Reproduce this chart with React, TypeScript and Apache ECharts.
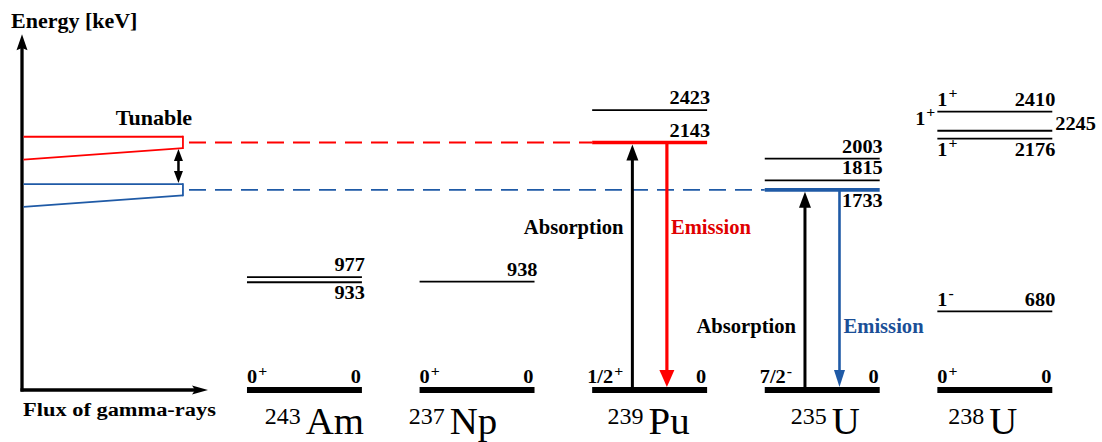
import React, { useEffect, useRef } from "react";
import * as echarts from "echarts";

// ---------------- data ----------------
const nuclideSymbols = ["Am", "Np", "Pu", "U", "U"];
const massNumbers = ["243", "237", "239", "235", "238"];
const groundSpins = ["0", "0", "1/2", "7/2", "0"];
const groundParities = ["+", "+", "+", "-", "+"];

const levelNuclide = [0, 0, 1, 2, 2, 3, 3, 3, 4, 4, 4, 4];
const levelEnergies = [977, 933, 938, 2423, 2143, 2003, 1815, 1733, 2410, 2245, 2176, 680];
const levelSpins = ["", "", "", "", "", "", "", "", "1", "1", "1", "1"];
const levelParities = ["", "", "", "", "", "", "", "", "+", "+", "+", "-"];

const transitionNuclide = [2, 2, 3, 3];
const transitionFrom = [0, 2143, 0, 1733];
const transitionTo = [2143, 0, 1733, 0];
const transitionNames = ["Absorption", "Emission", "Absorption", "Emission"];

const resonanceEnergies = [2143, 1733];
const resonanceNuclide = [2, 3];

// ---------------- layout / style ----------------
const SERIF = "'Liberation Serif', 'Times New Roman', 'DejaVu Serif', serif";
const RED = "#ff0000";
const BLUE = "#1f5aa6";
const BLUE_TEXT = "#1b4f97";
const BLACK = "#000000";
const resonanceColors = [RED, BLUE];
const emissionTextColors = ["#e00000", BLUE_TEXT];

const levelLabelSide = ["above", "below", "above", "above", "above", "above", "above", "below", "above", "side", "below", "above"];
const HALF_WIDTH = 0.333;
const ARROW_DX = 0.1;
const AXIS_X = -0.6365;
const BAND_RIGHT = 0.296;
const DOUBLE_ARROW_X = 0.27;
const DASH_START = 0.331;
const FLUX_TIP = 0.441;
const ENERGY_TIP = 3080;
const BAND_OFFSETS = [50, -48, -148];
const NAME_SHIFT_PX = [10, -24, -1, 3, -12];
const LABEL_FRACTION: Record<number, number> = { 2: 0.66, 3: 0.32 };
const LABEL_SIZE = 18;
const LABEL_SX = 1.13;

let measureCtx: CanvasRenderingContext2D | null = null;
function measure(str: string, size: number, weight: string): number {
  if (!measureCtx) measureCtx = document.createElement("canvas").getContext("2d");
  if (!measureCtx) return str.length * size * 0.5;
  measureCtx.font = `${weight} ${size}px "Liberation Serif"`;
  return measureCtx.measureText(str).width;
}

function txt(x: number, y: number, str: string, size: number, opts: any = {}) {
  return {
    type: "text",
    x,
    y,
    scaleX: opts.sx ?? LABEL_SX,
    silent: true,
    style: {
      text: str,
      fill: opts.color ?? BLACK,
      fontSize: size,
      fontWeight: opts.weight ?? "bold",
      fontFamily: SERIF,
      align: opts.align ?? "left",
      verticalAlign: "middle",
    },
  };
}

function spinLabel(spin: string, parity: string, x: number, y: number, anchor: "left" | "right") {
  const size = LABEL_SIZE;
  const supSize = 14;
  const wb = measure(spin, size, "bold") * LABEL_SX;
  const ws = measure(parity, supSize, "bold") * LABEL_SX;
  const left = anchor === "left" ? x : x - wb - 1 - ws;
  return [
    txt(left, y, spin, size),
    txt(left + wb + 1, y - 6, parity, supSize),
  ];
}

function line(x1: number, y1: number, x2: number, y2: number, color: string, width: number, dash?: number[]) {
  return {
    type: "line",
    silent: true,
    shape: { x1, y1, x2, y2 },
    style: { stroke: color, lineWidth: width, lineDash: dash, lineCap: "butt" },
  };
}

function headV(tx: number, ty: number, dir: 1 | -1, w: number, h: number, color: string, notch = 0) {
  // dir 1 = pointing down, -1 = pointing up
  const pts: number[][] = [[tx, ty], [tx - w / 2, ty - dir * h]];
  if (notch) pts.push([tx, ty - dir * h * (1 - notch)]);
  pts.push([tx + w / 2, ty - dir * h]);
  return { type: "polygon", silent: true, shape: { points: pts }, style: { fill: color } };
}

function headH(tx: number, ty: number, w: number, h: number, color: string) {
  return {
    type: "polygon",
    silent: true,
    shape: { points: [[tx, ty], [tx - h, ty - w / 2], [tx - h * 0.8, ty], [tx - h, ty + w / 2]] },
    style: { fill: color },
  };
}

function buildOption(): any {
  const levelData = levelEnergies.map((e, i) => [levelNuclide[i] + 1, e, i]);
  const groundData = nuclideSymbols.map((_, i) => [i + 1, 0, i]);
  const transitionData = transitionFrom.map((f, i) => [transitionNuclide[i] + 1, f, transitionTo[i], i]);

  const renderDecor = (_params: any, api: any) => {
    const children: any[] = [];
    const [ax, y0] = api.coord([AXIS_X, 0]);
    const [, yTip] = api.coord([AXIS_X, ENERGY_TIP]);
    const [xTip] = api.coord([FLUX_TIP, 0]);
    // energy axis
    children.push(line(ax, y0 + 1.5, ax, yTip + 12, BLACK, 3.3));
    children.push(headV(ax, yTip, -1, 11, 16, BLACK, 0.15));
    // flux axis
    children.push(line(ax - 1.5, y0, xTip - 12, y0, BLACK, 3.3));
    children.push(headH(xTip, y0, 9, 16, BLACK));
    // titles
    children.push(txt(ax - 11, yTip - 13, "Energy [keV]", 20, { sx: 1.1 }));
    children.push(txt(ax + 1, y0 + 19, "Flux of gamma-rays", 19, { sx: 1.18 }));

    // tunable bands + dashed lines
    const [bx] = api.coord([BAND_RIGHT, 0]);
    let redBottomRight = 0;
    let blueTop = 0;
    resonanceEnergies.forEach((e, k) => {
      const color = resonanceColors[k];
      const [, yTop] = api.coord([0, e + BAND_OFFSETS[0]]);
      const [, yRb] = api.coord([0, e + BAND_OFFSETS[1]]);
      const [, yLb] = api.coord([0, e + BAND_OFFSETS[2]]);
      children.push(line(ax + 1.5, yTop, bx, yTop, color, 1.8));
      children.push(line(bx, yTop - 0.9, bx, yRb + 0.9, color, 1.8));
      children.push(line(bx, yRb, ax + 1.5, yLb, color, 1.8));
      const [ds, yd] = api.coord([DASH_START, e]);
      const [de] = api.coord([resonanceNuclide[k] + 1 - HALF_WIDTH, e]);
      children.push(line(ds, yd, de, yd, color, 1.8, [17, 9]));
      if (k === 0) redBottomRight = yRb;
      if (k === 1) blueTop = yTop;
    });
    const [dax] = api.coord([DOUBLE_ARROW_X, 0]);
    children.push(line(dax, redBottomRight + 10, dax, blueTop - 10, BLACK, 2.5));
    children.push(headV(dax, redBottomRight + 1, -1, 9, 12, BLACK));
    children.push(headV(dax, blueTop - 1, 1, 9, 12, BLACK));
    const [, yRedTop] = api.coord([0, resonanceEnergies[0] + BAND_OFFSETS[0]]);
    children.push(txt(bx - 29, yRedTop - 19, "Tunable", 21, { sx: 1.05, align: "center" }));
    return { type: "group", children };
  };

  const renderLevel = (params: any, api: any) => {
    const i = params.dataIndex;
    const xc = api.value(0);
    const e = api.value(1);
    const n = levelNuclide[i];
    const [x1, y] = api.coord([xc - HALF_WIDTH, e]);
    const [x2] = api.coord([xc + HALF_WIDTH, e]);
    let color = BLACK;
    let width = 1.8;
    resonanceEnergies.forEach((re, k) => {
      if (re === e && resonanceNuclide[k] === n) {
        color = resonanceColors[k];
        width = 3.6;
      }
    });
    const children: any[] = [line(x1, y, x2, y, color, width)];
    const side = levelLabelSide[i];
    const label = String(e);
    if (side === "above") {
      children.push(txt(x2 + 3, y - 12, label, LABEL_SIZE, { align: "right" }));
      if (levelSpins[i]) children.push(...spinLabel(levelSpins[i], levelParities[i], x1, y - 12, "left"));
    } else if (side === "below") {
      children.push(txt(x2 + 3, y + 11, label, LABEL_SIZE, { align: "right" }));
      if (levelSpins[i]) children.push(...spinLabel(levelSpins[i], levelParities[i], x1, y + 11, "left"));
    } else {
      children.push(txt(x2 + 3, y - 7, label, LABEL_SIZE, { align: "left" }));
      if (levelSpins[i]) children.push(...spinLabel(levelSpins[i], levelParities[i], x1 - 2, y - 12, "right"));
    }
    return { type: "group", children };
  };

  const renderGround = (params: any, api: any) => {
    const i = params.dataIndex;
    const xc = api.value(0);
    const [x1, y] = api.coord([xc - HALF_WIDTH, api.value(1)]);
    const [x2] = api.coord([xc + HALF_WIDTH, api.value(1)]);
    const [cx] = api.coord([xc, 0]);
    const children: any[] = [line(x1, y, x2, y, BLACK, 6)];
    children.push(...spinLabel(groundSpins[i], groundParities[i], x1 - (groundSpins[i].length > 1 ? 5 : 0), y - 13, "left"));
    children.push(txt(x2 - 1, y - 13, "0", LABEL_SIZE, { align: "right" }));
    // nuclide name: mass number + symbol
    const wm = measure(massNumbers[i], 24, "normal");
    const wsym = measure(nuclideSymbols[i], 37, "normal") * 1.05;
    const gap = 5;
    const left = cx + NAME_SHIFT_PX[i] - (wm + gap + wsym) / 2;
    children.push(txt(left, y + 26, massNumbers[i], 24, { weight: "normal", sx: 1 }));
    children.push(txt(left + wm + gap, y + 31, nuclideSymbols[i], 37, { weight: "normal", sx: 1.05 }));
    return { type: "group", children };
  };

  const renderTransition = (params: any, api: any) => {
    const i = params.dataIndex;
    const xc = api.value(0);
    const from = api.value(1);
    const to = api.value(2);
    const n = transitionNuclide[i];
    const absorption = to > from;
    const k = resonanceNuclide.indexOf(n);
    const color = absorption ? BLACK : resonanceColors[k];
    const textColor = absorption ? BLACK : emissionTextColors[k];
    const x = xc + (absorption ? -ARROW_DX : ARROW_DX);
    const [px, yFrom] = api.coord([x, from]);
    const [, yTo] = api.coord([x, to]);
    const children: any[] = [];
    if (absorption) {
      const tip = yTo + 2;
      children.push(line(px, yFrom - 2, px, tip + 14, color, 3));
      children.push(headV(px, tip, -1, 12, 16, color));
    } else {
      const tip = yTo - 3;
      const w = k === 0 ? 15 : 11;
      children.push(line(px, yFrom + 1, px, tip - 14, color, k === 0 ? 3.2 : 2.6));
      children.push(headV(px, tip, 1, w, 17, color));
    }
    const peak = Math.max(from, to);
    const [, ly] = api.coord([x, peak * LABEL_FRACTION[n]]);
    children.push(
      txt(absorption ? px - 9 : px + 4, ly, transitionNames[i], 20, {
        sx: 1.03,
        align: absorption ? "right" : "left",
        color: textColor,
      })
    );
    return { type: "group", children };
  };

  return {
    animation: false,
    backgroundColor: "#ffffff",
    grid: { left: 0, right: 0, top: 32, bottom: 52 },
    xAxis: { type: "value", min: -0.764, max: 5.621, show: false },
    yAxis: { type: "value", min: 0, max: 3100, show: false },
    series: [
      { type: "custom", name: "decor", data: [[0, 0]], renderItem: renderDecor, silent: true },
      { type: "custom", name: "levels", data: levelData, renderItem: renderLevel, silent: true },
      { type: "custom", name: "ground", data: groundData, renderItem: renderGround, silent: true },
      { type: "custom", name: "transitions", data: transitionData, renderItem: renderTransition, silent: true },
    ],
  };
}

export default function App() {
  const ref = useRef<HTMLDivElement>(null);
  useEffect(() => {
    const el = ref.current;
    if (!el) return;
    const chart = echarts.init(el, null, { renderer: "svg" });
    chart.setOption(buildOption());
    return () => chart.dispose();
  }, []);
  return (
    <div
      ref={ref}
      style={{ position: "fixed", left: 0, top: 0, width: 1102, height: 442, background: "#fff" }}
    />
  );
}
